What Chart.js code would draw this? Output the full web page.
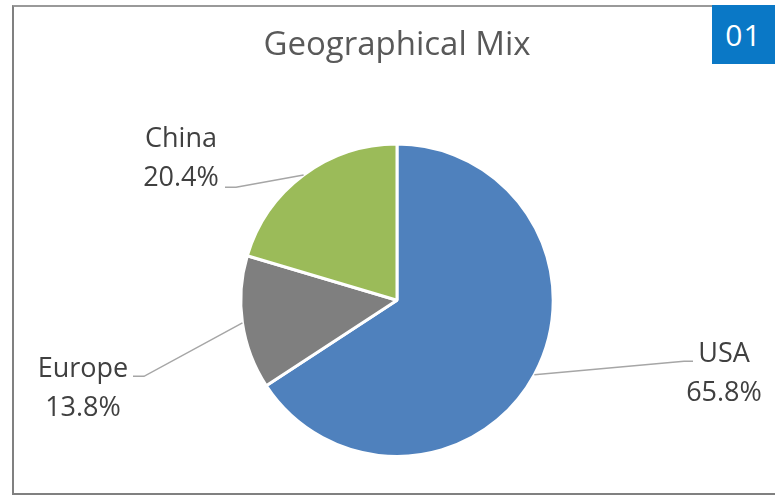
<!DOCTYPE html>
<html>
<head>
<meta charset="utf-8">
<script src="https://cdn.jsdelivr.net/npm/chart.js@4.4.1/dist/chart.umd.min.js"></script>
<style>
  html, body { margin: 0; padding: 0; background: #fff; }
  #wrap { position: relative; width: 775px; height: 495px; overflow: hidden; }
  #frame {
    position: absolute; left: 12px; top: 5px; width: 800px; height: 486px;
    border-left: 2px solid #808080; border-top: 2px solid #999; border-bottom: 2px solid #808080;
  }
  #badge {
    position: absolute; left: 712px; top: 5px; width: 63px; height: 59px;
    background: #0a78c6; color: #fff; font: 30px "Open Sans", sans-serif;
    line-height: 59px; text-align: center; letter-spacing: 1px;
  }
  #plot { position: absolute; left: 0; top: 0; }
</style>
</head>
<body>
<div id="wrap">
  <div id="frame"></div>
  <canvas id="plot" width="775" height="495"></canvas>
  <div id="badge">01</div>
</div>
<script>
const regions = ['USA', 'Europe', 'China']
const shares = [65.8, 13.8, 20.4]
const sliceColors = ['#4f81bd', '#7f7f7f', '#9bbb59']

// where each data label sits, relative to the pie centre (text centre / first baseline, leader end)
const labelSpots = [
    { tx: 327, ty: 62, lx: 296, ly: 61 },
    { tx: -314, ty: 77, lx: -264, ly: 76 },
    { tx: -216, ty: -153, lx: -172, ly: -113 }
]

const labelPlugin = {
    id: 'leaderLabels',
    afterDatasetsDraw(chart) {
        const ctx = chart.ctx
        const meta = chart.getDatasetMeta(0)
        meta.data.forEach((arc, i) => {
            const p = arc.getProps(['x', 'y', 'startAngle', 'endAngle', 'outerRadius'], true)
            const mid = (p.startAngle + p.endAngle) / 2
            const ex = p.x + Math.cos(mid) * p.outerRadius
            const ey = p.y + Math.sin(mid) * p.outerRadius
            const s = labelSpots[i]
            const lx = p.x + s.lx
            const ly = p.y + s.ly
            const bx = lx + (lx < p.x ? 11 : -9)
            ctx.save()
            ctx.strokeStyle = '#a6a6a6'
            ctx.lineWidth = 1.5
            ctx.beginPath()
            ctx.moveTo(ex, ey)
            ctx.lineTo(bx, ly)
            ctx.lineTo(lx, ly)
            ctx.stroke()
            ctx.fillStyle = '#404040'
            ctx.font = '27px "Open Sans", sans-serif'
            ctx.textAlign = 'center'
            ctx.textBaseline = 'alphabetic'
            ctx.fillText(regions[i], p.x + s.tx, p.y + s.ty)
            ctx.fillText(shares[i].toFixed(1) + '%', p.x + s.tx, p.y + s.ty + 39)
            ctx.restore()
        })
    }
}

const config = {
    type: 'pie',
    data: {
        labels: regions,
        datasets: [{
            data: shares,
            backgroundColor: sliceColors,
            borderColor: '#ffffff',
            borderWidth: 3
        }]
    },
    options: {
        responsive: false,
        animation: false,
        layout: {
            padding: { top: 0, bottom: 37, left: 19, right: 0 }
        },
        plugins: {
            legend: { display: false },
            tooltip: { enabled: false },
            title: {
                display: true,
                text: 'Geographical Mix',
                color: '#595959',
                font: { family: '"Open Sans", sans-serif', size: 33, weight: 'normal', lineHeight: 1.2 },
                padding: { top: 26, bottom: 77 }
            }
        }
    },
    plugins: [labelPlugin]
}

myChart = new Chart(document.getElementById('plot'), config)
</script>
</body>
</html>
